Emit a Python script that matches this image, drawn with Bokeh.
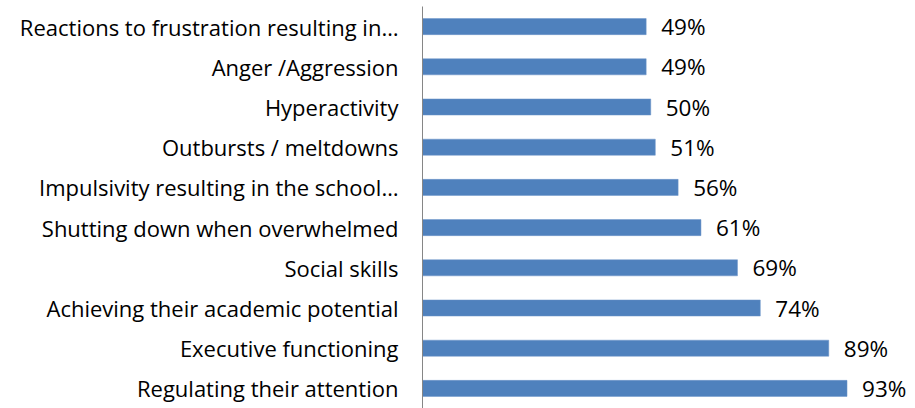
from bokeh.plotting import figure
from bokeh.models import ColumnDataSource, FactorRange, Range1d
from bokeh.core.properties import value
from bokeh.embed import file_html
from bokeh.resources import INLINE

categories = [
    "Regulating their attention",
    "Executive functioning",
    "Achieving their academic potential",
    "Social skills",
    "Shutting down when overwhelmed",
    "Impulsivity resulting in the school…",
    "Outbursts / meltdowns",
    "Hyperactivity",
    "Anger /Aggression",
    "Reactions to frustration resulting in…",
]
values = [93, 89, 74, 69, 61, 56, 51, 50, 49, 49]
labels = [f"{v}%" for v in values]

src = ColumnDataSource(dict(cat=categories, val=values, lab=labels))

p = figure(
    width=915, height=408,
    y_range=FactorRange(factors=categories),
    x_range=Range1d(0, 108),
    output_backend="svg", toolbar_location=None,
    min_border_left=422, min_border_right=0, min_border_top=6, min_border_bottom=0,
)
p.hbar(y="cat", right="val", left=0, height=0.4, source=src,
       fill_color="#4F81BD", line_color="#6D95C8", line_width=0.5)
p.text(x="val", y="cat", text="lab", source=src, x_offset=15,
       text_baseline="middle", text_align="left",
       text_font=value("Open Sans"), text_font_size="22.5px", text_color="#000000")

p.xaxis.visible = False
p.xgrid.visible = False
p.ygrid.visible = False
p.outline_line_color = None
ax = p.yaxis[0]
ax.axis_line_color = "#868686"
ax.axis_line_width = 1
ax.major_tick_line_color = None
ax.minor_tick_line_color = None
ax.major_label_text_font = "Open Sans"
ax.major_label_text_font_size = "22px"
ax.major_label_text_color = "#000000"
ax.major_label_standoff = 18

open("out.html", "w").write(file_html(p, INLINE))
